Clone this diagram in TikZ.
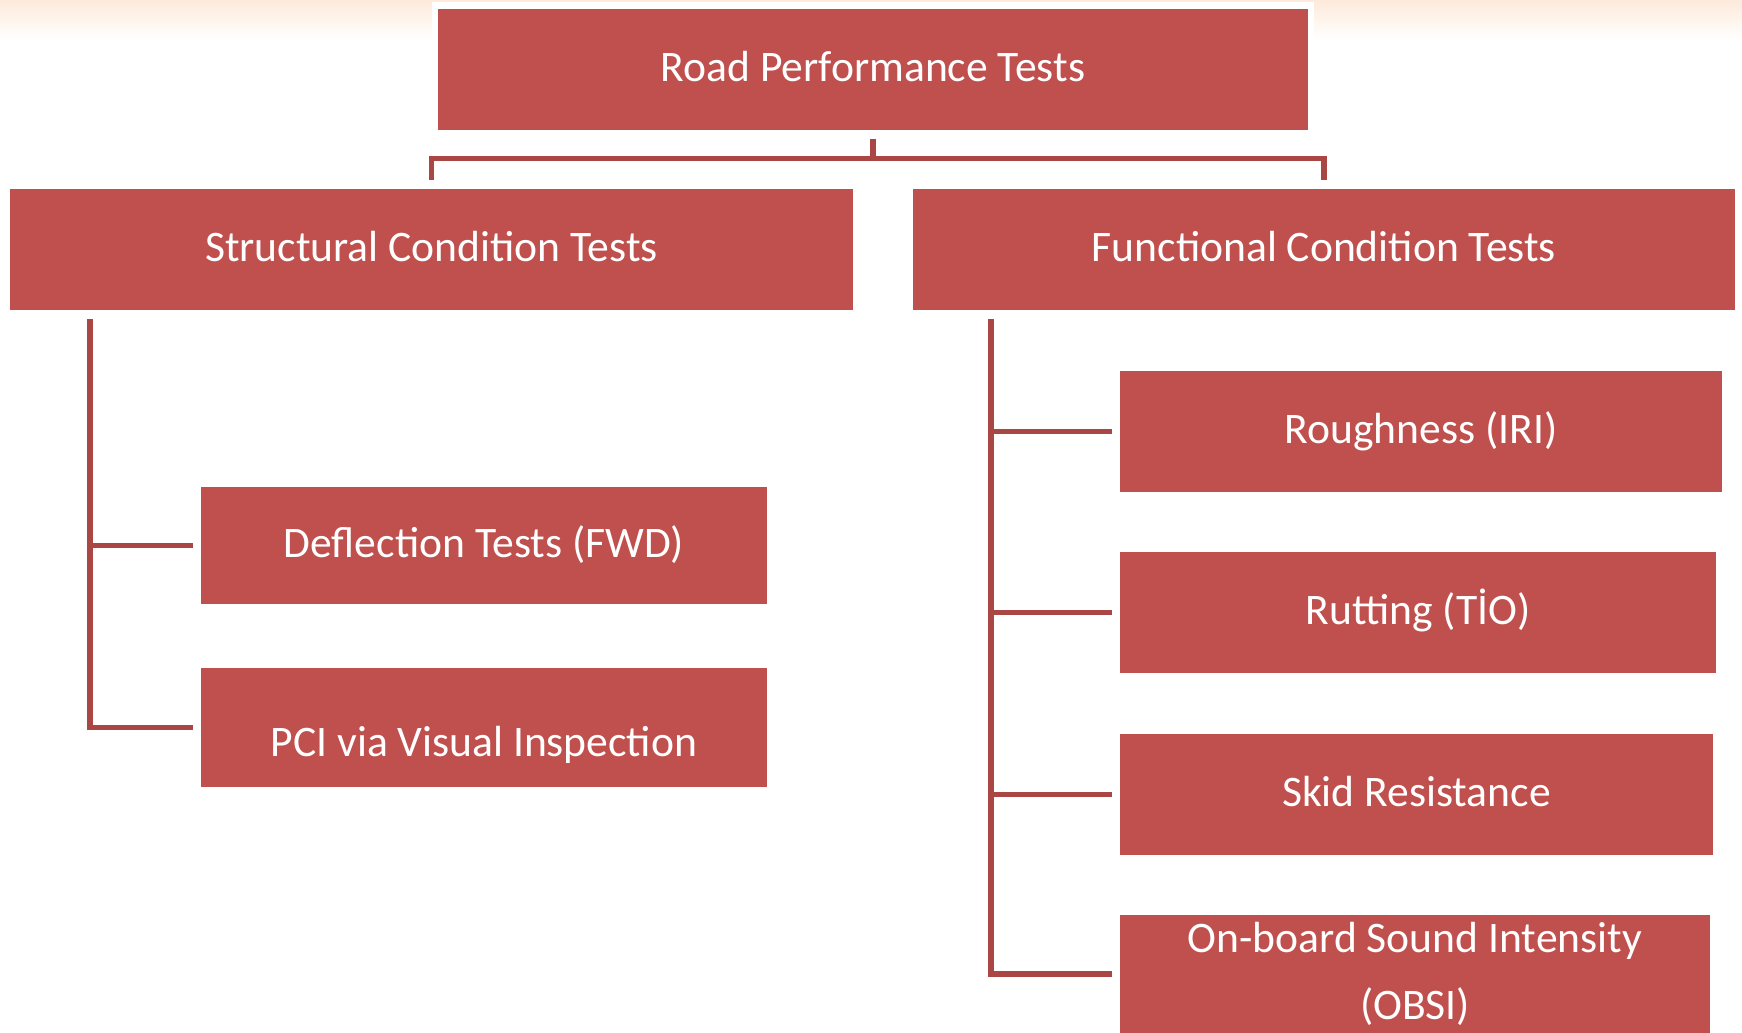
\documentclass[tikz,border=0pt]{standalone}
\usepackage{fontspec}
\setmainfont{Carlito}
\definecolor{boxred}{HTML}{C0504D}
\definecolor{linkred}{RGB}{170,70,68}
\definecolor{peach}{HTML}{FDEADB}
\tikzset{
  testbox/.style={fill=boxred, text=white, inner sep=0pt, align=center,
    text height=0.89em, text depth=0.2em,
    font=\fontsize{12.4pt}{19pt}\selectfont},
  link/.style={draw=linkred, line width=0.55mm},
}
\begin{document}
\begin{tikzpicture}[x=0.1mm, y=-0.1mm]
    \useasboundingbox (0,0) rectangle (1742,1033);
    \shade[top color=peach, bottom color=white] (0,0) rectangle (1742,40);
    \fill[white] (432,2) rectangle (1314,134);

    \node[testbox, minimum width=87mm, minimum height=12.1mm] (root) at (873,69.5) {Road Performance Tests};
    \node[testbox, minimum width=84.3mm, minimum height=12.1mm] (struct) at (431.5,249.5) {Structural Condition Tests};
    \node[testbox, minimum width=82.2mm, minimum height=12.1mm] (func) at (1324,249.5) {Functional Condition Tests};

    \node[testbox, minimum width=56.6mm, minimum height=11.7mm] (defl) at (484,545.5) {Deflection Tests (FWD)};
    \node[testbox, minimum width=56.6mm, minimum height=11.9mm] (pci) at (484,727.5) {\raisebox{-1.7mm}{PCI via Visual Inspection}};

    \node[testbox, minimum width=60.2mm, minimum height=12.1mm] (rough) at (1421,431.5) {Roughness (IRI)};
    \node[testbox, minimum width=59.6mm, minimum height=12.1mm] (rut) at (1418,612.5) {Rutting (TİO)};
    \node[testbox, minimum width=59.3mm, minimum height=12.1mm] (skid) at (1416.5,794.5) {Skid Resistance};
    \node[testbox, text height=, text depth=, minimum width=59mm, minimum height=11.8mm] (obsi) at (1415,974) {\raisebox{-0.6mm}{On-board Sound Intensity}\\\raisebox{-0.6mm}{(OBSI)}};

    \draw[link, shorten <=0.8mm, shorten >=0.8mm] (root.south) -- ++(0,28) -| (struct.north);
    \draw[link, shorten <=0.8mm, shorten >=0.8mm] (root.south) -- ++(0,28) -| (func.north);

    \coordinate (strunk) at (90,319);
    \draw[link, shorten >=0.7mm] (strunk) |- (pci.west);
    \draw[link, shorten >=0.7mm] (strunk |- defl.west) -- (defl.west);

    \coordinate (ftrunk) at (991,319);
    \draw[link, shorten >=0.7mm] (ftrunk) |- (obsi.west);
    \draw[link, shorten >=0.7mm] (ftrunk |- rough.west) -- (rough.west);
    \draw[link, shorten >=0.7mm] (ftrunk |- rut.west) -- (rut.west);
    \draw[link, shorten >=0.7mm] (ftrunk |- skid.west) -- (skid.west);
\end{tikzpicture}
\end{document}
